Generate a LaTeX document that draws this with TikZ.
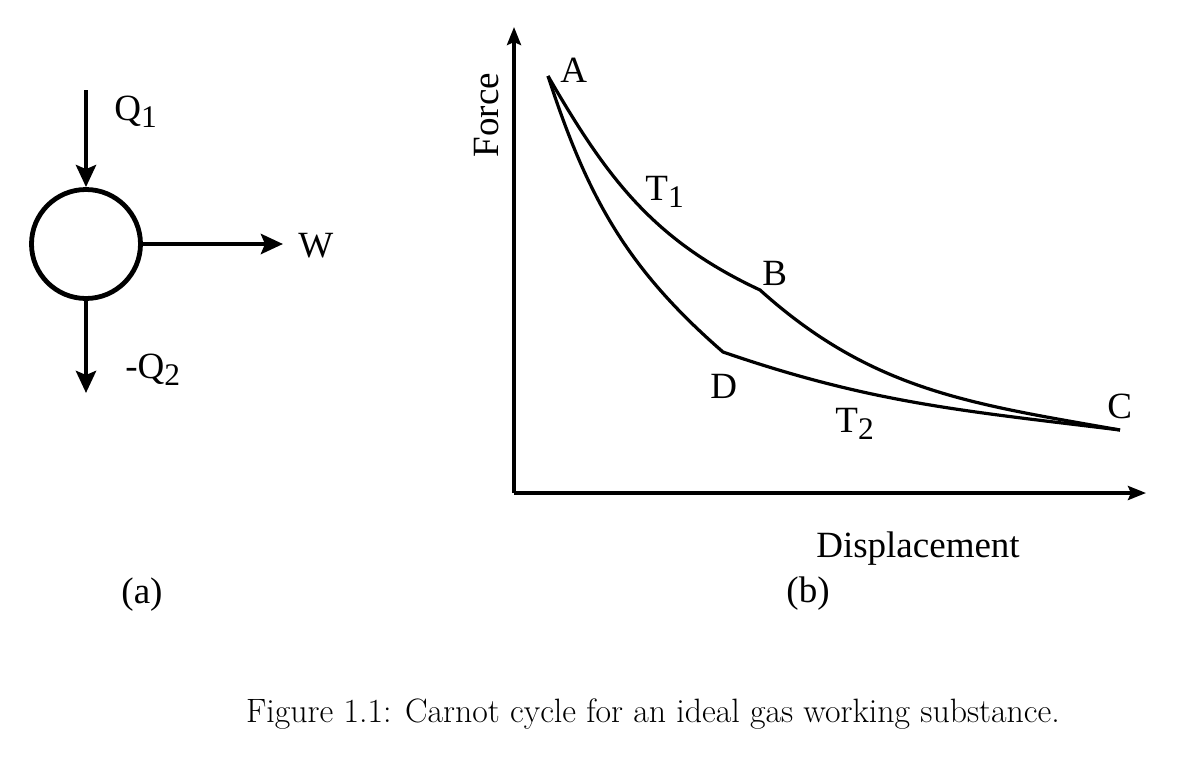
\documentclass[tikz,border=0pt]{standalone}
\usepackage{graphicx}
\usepackage{fontspec}
\newfontfamily\timesfont[FakeSlant=0.001]{Liberation Serif}
\usetikzlibrary{arrows.meta}
\newcommand{\lowsub}[1]{\raisebox{-0.45ex}{\scalebox{0.85}{#1}}}

\begin{document}
\begin{tikzpicture}[
x=0.5pt, y=-0.5pt,
lbl/.style={font=\fontsize{18.5}{20}\timesfont, inner sep=0pt},
flow/.style={-{Stealth[length=11pt, width=10pt, inset=2pt]}, line width=2.3pt},
axis/.style={-{Stealth[length=9pt, width=7pt, inset=1.5pt]}, line width=1.8pt},
curve/.style={line width=1.6pt}
]
\useasboundingbox (0,0) rectangle (1182,776);

% (a) engine
\node[draw, circle, line width=2.4pt, minimum size=54.5pt, inner sep=0pt] (eng) at (86,244) {};
\coordinate (qin) at (86,90);
\coordinate (wout) at (283,244);
\coordinate (qout) at (86,393);
\draw[flow] (qin) -- (eng.north);
\draw[flow] (eng.east) -- (wout);
\draw[flow] (eng.south) -- (qout);
\node[lbl, anchor=base west] (q1) at (114,120) {Q\lowsub{1}};
\node[lbl, anchor=base west] (w) at (298,257) {W};
\node[lbl, anchor=base west] (q2) at (125,378) {-Q\lowsub{2}};
\node[lbl] (capa) at (142,595) {(a)};

% (b) force--displacement
\coordinate (O) at (514,493);
\coordinate (ytop) at (514,27);
\coordinate (xend) at (1146,493);
\draw[axis] (O) -- (ytop);
\draw[axis] (O) -- (xend);
\node[lbl, rotate=90, anchor=base] (force) at (498,115) {Force};
\node[lbl, anchor=base] (disp) at (918,557) {Displacement};
\node[lbl] (capb) at (808,594) {(b)};

\coordinate (A) at (548,76);
\coordinate (B) at (760,290);
\coordinate (C) at (1120,430);
\coordinate (D) at (723,352);
\draw[curve] (A) to[out=-60, in=155] (B) to[out=-42, in=170] (C);
\draw[curve] (A) to[out=-72, in=139] (D) to[out=-19, in=173] (C);

\node[lbl, anchor=base west] (la) at (560,82) {A};
\node[lbl, anchor=base west] (lb) at (762,285) {B};
\node[lbl, anchor=base west] (lc) at (1107,418) {C};
\node[lbl, anchor=base west] (ld) at (710,398) {D};
\node[lbl, anchor=base west] (t1) at (645,200) {T\lowsub{1}};
\node[lbl, anchor=base west] (t2) at (835,432) {T\lowsub{2}};

% caption
\node[font=\fontsize{16.9}{19}\selectfont, anchor=base, inner sep=0pt] (cap) at (653,722)
  {Figure 1.1: Carnot cycle for an ideal gas working substance.};
\end{tikzpicture}
\end{document}
